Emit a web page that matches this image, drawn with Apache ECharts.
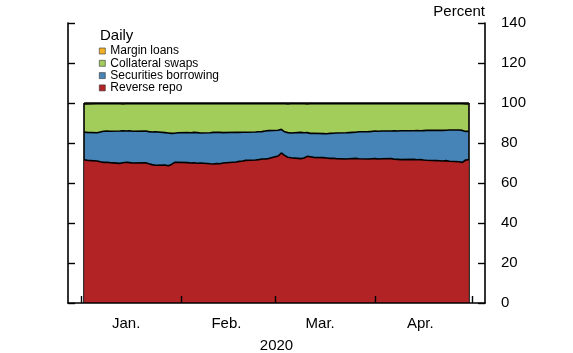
<!DOCTYPE html>
<html>
<head>
<meta charset="utf-8">
<script src="https://cdn.jsdelivr.net/npm/echarts@6/dist/echarts.min.js"></script>
<style>
  html, body { margin: 0; padding: 0; background: #fff; }
  #main { width: 573px; height: 353px; }
</style>
</head>
<body>
<div id="main"></div>
<script>
// business days shown in the chart (market holidays dropped)
var holidays = ['2020-01-20', '2020-02-17', '2020-04-10'];
function pad(n) { return n < 10 ? '0' + n : '' + n; }
var dates = [];
for (var d = new Date(2020, 0, 2); d <= new Date(2020, 3, 30); d.setDate(d.getDate() + 1)) {
    var s = d.getFullYear() + '-' + pad(d.getMonth() + 1) + '-' + pad(d.getDate());
    if (d.getDay() === 0 || d.getDay() === 6 || holidays.indexOf(s) >= 0) continue;
    dates.push(+new Date(d.getFullYear(), d.getMonth(), d.getDate()));
}

// cumulative shares, percent
var reverseRepo = [
    71.6, 71.3, 71.0, 70.6, 70.3, 70.4, 70.2, 69.8, 70.1, 70.4, 70.2, 70.0, 70.1, 69.6, 69.2, 68.9, 69.0, 68.6, 69.3, 70.3, 70.4,
    70.2, 70.0, 70.1, 69.9, 70.0, 69.6, 69.5, 69.7, 69.6, 70.0, 70.5, 70.8, 71.0, 71.3, 71.5, 71.7, 72.0, 72.0, 72.2,
    73.5, 75.0, 73.8, 72.9, 72.6, 72.2, 72.5, 73.3, 73.1, 72.8, 72.7, 72.5, 72.3, 72.4, 72.2, 72.0, 72.1, 72.2, 72.3, 72.1, 72.0, 72.1,
    72.2, 72.0, 72.1, 72.2, 71.9, 71.8, 71.7, 71.8, 71.6, 71.7, 71.5, 71.4, 71.2, 71.1, 71.0, 71.2, 70.9, 70.6, 70.3, 71.5, 71.7
];
var securitiesTop = [
    85.4, 85.3, 85.1, 85.5, 85.9, 86.0, 85.9, 86.0, 86.1, 86.0, 86.1, 85.9, 86.0, 85.7, 85.5, 85.6, 85.2, 85.0, 84.8, 84.9, 85.1,
    85.2, 85.1, 85.3, 85.2, 85.0, 85.1, 85.3, 85.4, 85.3, 85.2, 85.4, 85.3, 85.4, 85.4, 85.5, 85.6, 85.7, 86.0, 86.2,
    86.4, 86.8, 85.6, 85.2, 85.0, 85.3, 85.1, 85.2, 84.8, 84.9, 84.7, 84.6, 84.8, 84.9, 85.0, 85.1, 85.2, 85.3, 85.4, 85.6, 85.7, 85.8,
    86.0, 85.9, 86.0, 86.0, 86.1, 86.0, 86.1, 86.1, 86.2, 86.1, 86.2, 86.3, 86.3, 86.4, 86.3, 86.4, 86.5, 86.5, 86.3, 85.8, 85.9
];
var swapsTop = [
    99.5, 99.5, 99.6, 99.6, 99.6, 99.6, 99.6, 99.6, 99.5, 99.6, 99.6, 99.6, 99.6, 99.6, 99.6, 99.6, 99.6, 99.6, 99.6, 99.6, 99.6,
    99.6, 99.6, 99.6, 99.6, 99.6, 99.6, 99.6, 99.6, 99.6, 99.6, 99.6, 99.6, 99.6, 99.6, 99.6, 99.6, 99.6, 99.6, 99.6,
    99.6, 99.6, 99.6, 99.5, 99.6, 99.6, 99.6, 99.5, 99.6, 99.6, 99.6, 99.6, 99.6, 99.6, 99.6, 99.6, 99.6, 99.6, 99.6, 99.6, 99.6, 99.6,
    99.6, 99.6, 99.6, 99.6, 99.6, 99.6, 99.6, 99.6, 99.6, 99.6, 99.6, 99.6, 99.6, 99.6, 99.6, 99.6, 99.6, 99.6, 99.6, 99.5, 99.5
];
var marginTop = dates.map(function () { return 100; });

var seriesNames = ['Margin loans', 'Collateral swaps', 'Securities borrowing', 'Reverse repo'];
var seriesColors = ['#F2B124', '#A3CD5B', '#4683B6', '#B22325'];
var seriesLevels = [marginTop, swapsTop, securitiesTop, reverseRepo];
var monthLabels = ['Jan.', 'Feb.', 'Mar.', 'Apr.'];
var monthStarts = [new Date(2020, 0, 1), new Date(2020, 1, 1), new Date(2020, 2, 1), new Date(2020, 3, 1), new Date(2020, 4, 1)];
var monthMids = [new Date(2020, 0, 15), new Date(2020, 1, 15), new Date(2020, 2, 15), new Date(2020, 3, 15)];
var yTicks = [0, 20, 40, 60, 80, 100, 120, 140];

var font = 'Liberation Sans, Arial, sans-serif';
var chart = echarts.init(document.getElementById('main'));

var edgeLines = {
    silent: true,
    symbol: 'none',
    label: { show: false },
    lineStyle: { color: '#000', width: 1.6, type: 'solid' },
    data: [
        [{ coord: [dates[0], 0] }, { coord: [dates[0], 100] }],
        [{ coord: [dates[dates.length - 1], 0] }, { coord: [dates[dates.length - 1], 100] }]
    ]
};

var series = seriesNames.map(function (name, i) {
    return {
        name: name,
        type: 'line',
        symbol: 'none',
        data: dates.map(function (dt, j) { return [dt, seriesLevels[i][j]]; }),
        itemStyle: { color: seriesColors[i] },
        lineStyle: { color: '#000', width: 1.6 },
        areaStyle: { color: seriesColors[i], opacity: 1 },
        emphasis: { disabled: true },
        z: 2 + i
    };
});
series[3].markLine = edgeLines;

chart.setOption({
    animation: false,
    textStyle: { fontFamily: font },
    title: {
        text: 'Daily',
        left: 100,
        top: 28,
        padding: 0,
        textStyle: { fontSize: 15, fontWeight: 'normal', color: '#000', fontFamily: font }
    },
    legend: {
        orient: 'vertical',
        left: 99,
        top: 45,
        padding: 0,
        itemWidth: 6,
        itemHeight: 6,
        itemGap: 0.3,
        icon: 'rect',
        data: seriesNames,
        itemStyle: { borderColor: '#333', borderWidth: 0.6 },
        textStyle: { fontSize: 12, color: '#000', lineHeight: 12, fontFamily: font }
    },
    grid: { left: 68, right: 88, top: 23, bottom: 50, outerBoundsMode: 'none' },
    xAxis: {
        type: 'value',
        min: +new Date(2019, 11, 28),
        max: +new Date(2020, 4, 5),
        z: 10,
        name: '2020',
        nameLocation: 'middle',
        nameGap: 35,
        nameTextStyle: { fontSize: 15, color: '#000', fontFamily: font },
        axisLine: { show: true, lineStyle: { color: '#000', width: 1.6 } },
        axisTick: {
            show: true, inside: true, length: 7,
            customValues: monthStarts.map(function (m) { return +m; }),
            lineStyle: { color: '#000', width: 1.4 }
        },
        axisLabel: {
            customValues: monthMids.map(function (m) { return +m; }),
            formatter: function (v) { return monthLabels[new Date(v).getMonth()]; },
            fontSize: 15, color: '#000', margin: 13, fontFamily: font
        },
        splitLine: { show: false }
    },
    yAxis: [{
        type: 'value',
        position: 'left',
        min: 0, max: 140, interval: 20,
        z: 10,
        axisLine: { show: true, lineStyle: { color: '#000', width: 1.6 } },
        axisTick: { show: true, inside: true, length: 7, lineStyle: { color: '#000', width: 1.4 } },
        axisLabel: { show: false },
        splitLine: { show: false }
    }, {
        type: 'value',
        position: 'right',
        min: 0, max: 140, interval: 20,
        z: 10,
        name: 'Percent',
        nameLocation: 'end',
        nameGap: 4,
        nameTextStyle: { fontSize: 15, color: '#000', align: 'right', verticalAlign: 'bottom', fontFamily: font },
        axisLine: { show: true, lineStyle: { color: '#000', width: 1.6 } },
        axisTick: { show: true, inside: true, length: 7, lineStyle: { color: '#000', width: 1.4 } },
        axisLabel: {
            fontSize: 15, color: '#000', margin: 16, fontFamily: font,
            formatter: function (v) { return yTicks.indexOf(v) >= 0 ? String(v) : ''; }
        },
        splitLine: { show: false }
    }],
    series: series
});
</script>
</body>
</html>
